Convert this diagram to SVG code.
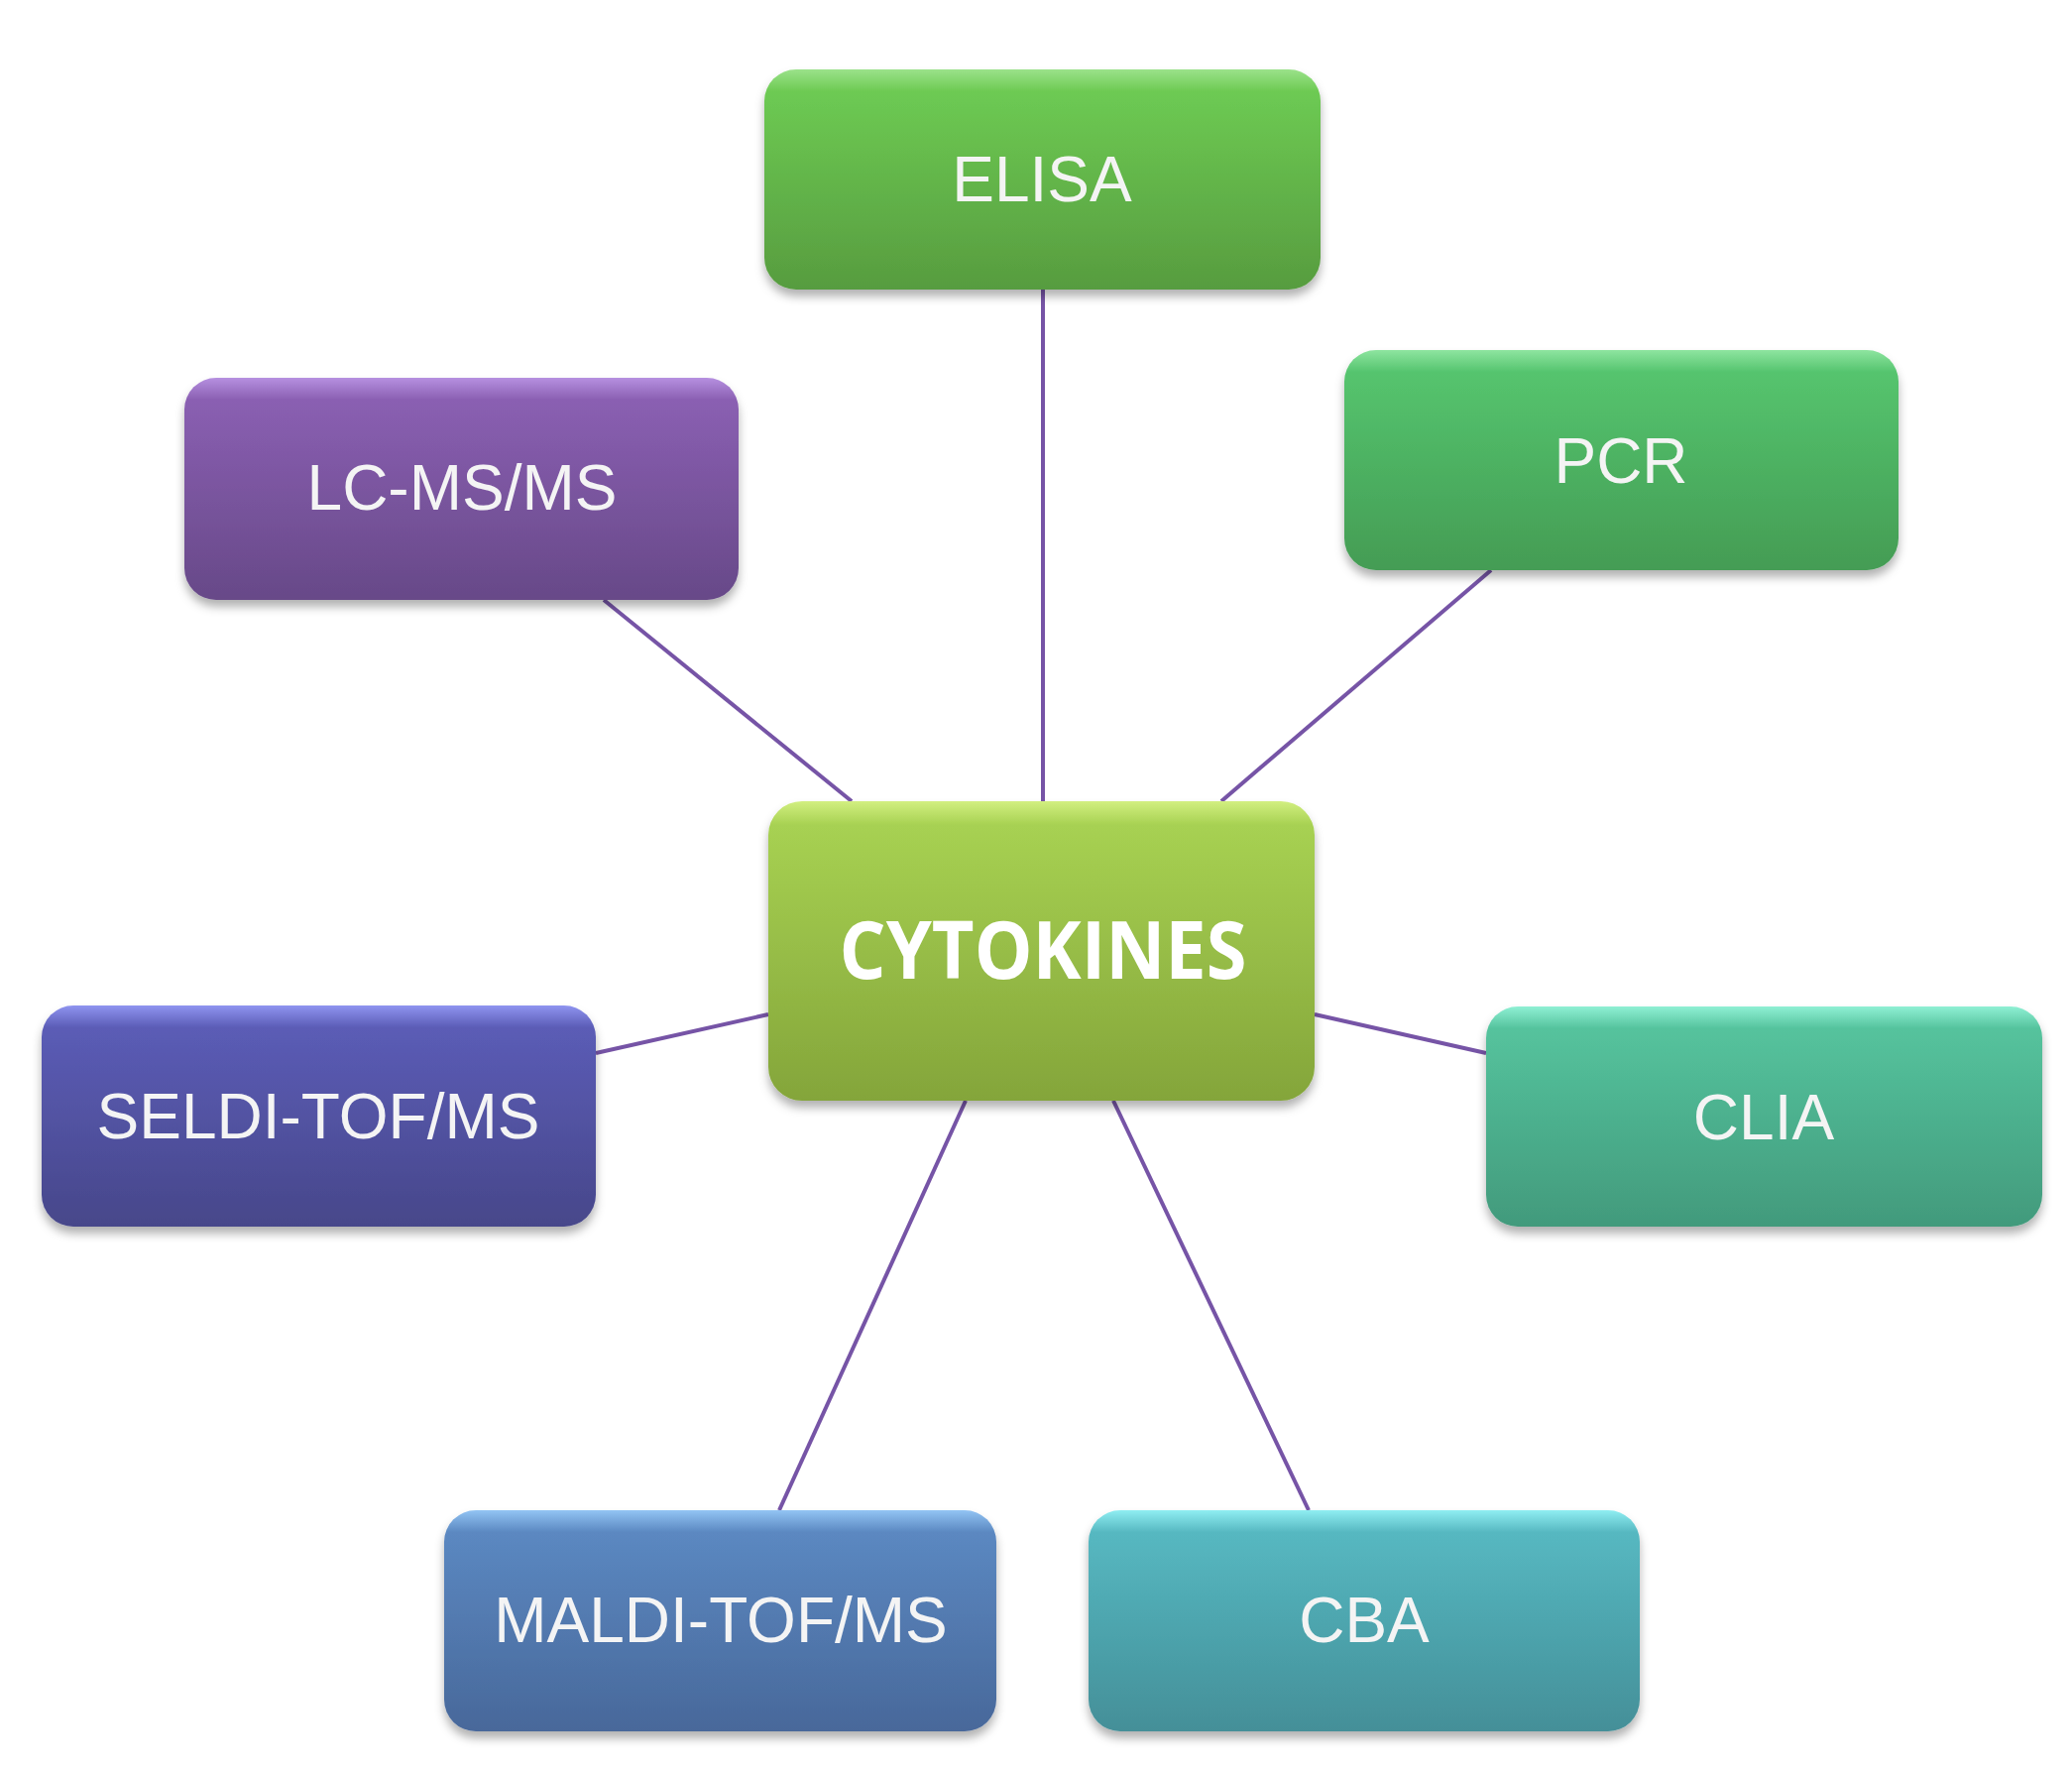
<svg xmlns="http://www.w3.org/2000/svg" width="2090" height="1787" viewBox="0 0 2090 1787">
<style>
.lbl{font-family:"Liberation Sans",Arial,sans-serif;font-size:64px;fill:#f4f4f4;text-anchor:middle}
.main{font-family:"Open Sans","Noto Sans",sans-serif;font-weight:bold;font-size:80px;fill:#ffffff;text-anchor:middle}
.box{filter:url(#sh)}
.hl{fill:#ffffff;opacity:0.22}
#connectors line{stroke:#7654a6;stroke-width:4;stroke-linecap:butt}
</style>
<defs>
<filter id="sh" x="-10%" y="-10%" width="120%" height="130%">
<feDropShadow dx="0" dy="7" stdDeviation="5" flood-color="#000" flood-opacity="0.3"/>
</filter>
<linearGradient id="gElisa" x1="0" y1="0" x2="0" y2="1"><stop offset="0" stop-color="#9be28a"/><stop offset="0.1" stop-color="#6dca53"/><stop offset="1" stop-color="#579c3f"/></linearGradient>
<linearGradient id="gPcr" x1="0" y1="0" x2="0" y2="1"><stop offset="0" stop-color="#8ee5a0"/><stop offset="0.1" stop-color="#55c46e"/><stop offset="1" stop-color="#449c54"/></linearGradient>
<linearGradient id="gLc" x1="0" y1="0" x2="0" y2="1"><stop offset="0" stop-color="#b690e0"/><stop offset="0.1" stop-color="#8a5fb2"/><stop offset="1" stop-color="#674988"/></linearGradient>
<linearGradient id="gCyt" x1="0" y1="0" x2="0" y2="1"><stop offset="0" stop-color="#d2ef80"/><stop offset="0.08" stop-color="#a7d152"/><stop offset="1" stop-color="#84a53a"/></linearGradient>
<linearGradient id="gSeldi" x1="0" y1="0" x2="0" y2="1"><stop offset="0" stop-color="#8f94f0"/><stop offset="0.1" stop-color="#5b5cb6"/><stop offset="1" stop-color="#47478a"/></linearGradient>
<linearGradient id="gClia" x1="0" y1="0" x2="0" y2="1"><stop offset="0" stop-color="#8ff0d4"/><stop offset="0.1" stop-color="#55c39d"/><stop offset="1" stop-color="#429a7c"/></linearGradient>
<linearGradient id="gMaldi" x1="0" y1="0" x2="0" y2="1"><stop offset="0" stop-color="#92c4f4"/><stop offset="0.1" stop-color="#5b88c1"/><stop offset="1" stop-color="#48689a"/></linearGradient>
<linearGradient id="gCba" x1="0" y1="0" x2="0" y2="1"><stop offset="0" stop-color="#8feef2"/><stop offset="0.1" stop-color="#56b8c1"/><stop offset="1" stop-color="#448f98"/></linearGradient>
</defs>
<rect width="2090" height="1787" fill="#ffffff"/>
<g id="connectors">
<line x1="1052" y1="292" x2="1052" y2="808"/>
<line x1="609" y1="605" x2="859" y2="808"/>
<line x1="1504" y1="575" x2="1232" y2="808"/>
<line x1="601" y1="1062" x2="775" y2="1023"/>
<line x1="1326" y1="1023" x2="1499" y2="1062"/>
<line x1="974" y1="1110" x2="786" y2="1523"/>
<line x1="1123" y1="1110" x2="1320" y2="1523"/>
</g>
<g id="elisa"><rect class="box" x="771" y="70" width="561" height="222" rx="32" fill="url(#gElisa)"/><text class="lbl" x="1051" y="203">ELISA</text></g>
<g id="pcr"><rect class="box" x="1356" y="353" width="559" height="222" rx="32" fill="url(#gPcr)"/><text class="lbl" x="1635" y="487">PCR</text></g>
<g id="lcmsms"><rect class="box" x="186" y="381" width="559" height="224" rx="32" fill="url(#gLc)"/><text class="lbl" x="466" y="514">LC-MS/MS</text></g>
<g id="cytokines"><rect class="box" x="775" y="808" width="551" height="302" rx="34" fill="url(#gCyt)"/><text class="main" x="1052" y="987" textLength="411" lengthAdjust="spacingAndGlyphs">CYTOKINES</text></g>
<g id="seldi"><rect class="box" x="42" y="1014" width="559" height="223" rx="32" fill="url(#gSeldi)"/><text class="lbl" x="321" y="1148">SELDI-TOF/MS</text></g>
<g id="clia"><rect class="box" x="1499" y="1015" width="561" height="222" rx="32" fill="url(#gClia)"/><text class="lbl" x="1779" y="1149">CLIA</text></g>
<g id="maldi"><rect class="box" x="448" y="1523" width="557" height="223" rx="32" fill="url(#gMaldi)"/><text class="lbl" x="727" y="1656">MALDI-TOF/MS</text></g>
<g id="cba"><rect class="box" x="1098" y="1523" width="556" height="223" rx="32" fill="url(#gCba)"/><text class="lbl" x="1376" y="1656">CBA</text></g>
</svg>
